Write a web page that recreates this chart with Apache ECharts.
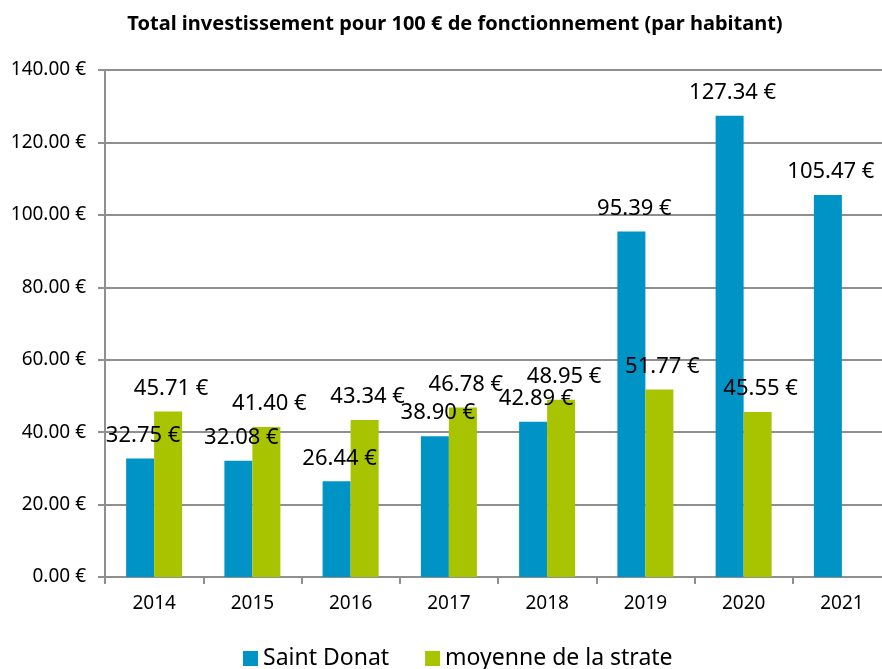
<!DOCTYPE html>
<html>
<head>
<meta charset="utf-8">
<script src="https://cdn.jsdelivr.net/npm/echarts@6/dist/echarts.min.js"></script>
<style>
  html, body { margin: 0; padding: 0; background: #fff; }
  #chart { width: 882px; height: 669px; }
</style>
</head>
<body>
<div id="chart"></div>
<script>
const years = ['2014', '2015', '2016', '2017', '2018', '2019', '2020', '2021']
const saintDonat = [32.75, 32.08, 26.44, 38.90, 42.89, 95.39, 127.34, 105.47]
const moyenneStrate = [45.71, 41.40, 43.34, 46.78, 48.95, 51.77, 45.55, null]
const seriesNames = ['Saint Donat', 'moyenne de la strate']

const fontFamily = '"Noto Sans", "Open Sans", sans-serif'
const axisGray = '#8f8f8f'
const euro = (value) => `${Number(value).toFixed(2)} €`

const barLabel = {
  show: true,
  position: 'top',
  distance: 12,
  offset: [3, 0],
  color: '#000',
  fontSize: 22,
  fontFamily,
  formatter: (params) => euro(params.value)
}

const chart = echarts.init(document.getElementById('chart'))

chart.setOption({
  backgroundColor: '#fff',
  animation: false,
  title: {
    text: 'Total investissement pour 100 € de fonctionnement (par habitant)',
    left: 450,
    textAlign: 'center',
    top: 9,
    textStyle: { fontFamily, fontSize: 20, fontWeight: 'bold', color: '#000' }
  },
  legend: {
    left: 238,
    top: 642,
    itemWidth: 15,
    itemHeight: 15,
    itemGap: 36,
    icon: 'rect',
    textStyle: { fontFamily, fontSize: 23, color: '#000' },
    data: seriesNames
  },
  // the plot runs past the right edge of the picture, as in the source
  grid: { left: 105, top: 70, width: 786, height: 507, outerBoundsMode: 'none' },
  xAxis: {
    type: 'category',
    data: years,
    axisLine: { lineStyle: { color: axisGray, width: 2 } },
    axisTick: { show: true, length: 7, lineStyle: { color: axisGray, width: 2 } },
    axisLabel: { margin: 17, color: '#000', fontSize: 19, fontFamily }
  },
  yAxis: {
    type: 'value',
    min: 0,
    max: 140,
    interval: 20,
    axisLine: { show: true, lineStyle: { color: axisGray, width: 2 } },
    axisTick: { show: true, length: 7, lineStyle: { color: axisGray, width: 2 } },
    splitLine: { lineStyle: { color: axisGray, width: 2 } },
    axisLabel: { margin: 19, color: '#000', fontSize: 19, fontFamily, formatter: euro }
  },
  series: [
    {
      name: seriesNames[0],
      type: 'bar',
      data: saintDonat,
      barGap: '0%',
      barCategoryGap: '43%',
      itemStyle: { color: '#0094c6' },
      label: barLabel
    },
    {
      name: seriesNames[1],
      type: 'bar',
      data: moyenneStrate,
      itemStyle: { color: '#a8c300' },
      label: barLabel
    }
  ]
})
</script>
</body>
</html>
